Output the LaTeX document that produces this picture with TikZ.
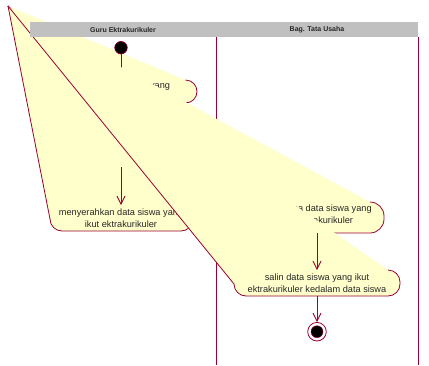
\documentclass[tikz,border=0pt]{standalone}
\usepackage{fontspec}
\setmainfont{Liberation Sans}
\usetikzlibrary{arrows.meta}
\definecolor{umlred}{RGB}{153,0,51}
\definecolor{umlfill}{RGB}{255,255,204}
\definecolor{umlhead}{RGB}{192,192,192}
\tikzset{
  umlline/.style={draw=umlred, line width=0.8pt},
  trans/.style={umlline, -{Straight Barb[length=8pt,width=8pt]}},
  acttext/.style={font=\fontsize{9.2}{11.6}\selectfont, align=center, inner sep=0pt, text=black!85},
  headtext/.style={font=\bfseries\fontsize{7}{8}\selectfont, inner sep=0pt, text=black!85},
  initnode/.style={circle, fill=black, draw=umlred, line width=0.6pt, minimum size=12.6pt, inner sep=0pt},
}
% activity shape: #1 left, #2 right, #3 top, #4 bottom, #5 corner radius (top-left corner drawn to the apex)
\newcommand\actshape[5]{%
  \fill[umlfill] (apex) -- (#2-#5,#3) .. controls (#2-0.448*#5,#3) and (#2,#3+0.448*#5) .. (#2,#3+#5)
    -- (#2,#4-#5) .. controls (#2,#4-0.448*#5) and (#2-0.448*#5,#4) .. (#2-#5,#4)
    -- (#1+#5,#4) .. controls (#1+0.448*#5,#4) and (#1,#4-0.448*#5) .. (#1,#4-#5) -- cycle;
  \draw[umlline] (#2-#5,#3) .. controls (#2-0.448*#5,#3) and (#2,#3+0.448*#5) .. (#2,#3+#5)
    -- (#2,#4-#5) .. controls (#2,#4-0.448*#5) and (#2-0.448*#5,#4) .. (#2-#5,#4)
    -- (#1+#5,#4) .. controls (#1+0.448*#5,#4) and (#1,#4-0.448*#5) .. (#1,#4-#5) -- (apex);
}
\begin{document}
\begin{tikzpicture}[x=1pt, y=-1pt]
\useasboundingbox (0,0) rectangle (429,365);
\fill[white] (0,0) rectangle (429,365);
\coordinate (apex) at (8,6);
% swimlane borders
\coordinate (l1top) at (216.5,37);
\coordinate (l1bot) at (216.5,365);
\coordinate (l2top) at (418,37);
\coordinate (l2bot) at (418,365);
\draw[umlline] (l1top) -- (l1bot);
\draw[umlline] (l2top) -- (l2bot);
% activity 1
\actshape{45}{197}{80}{103}{11.5}
\node[acttext] (a1) at (121,91.5) {melihat data siswa yang\\ikut ektrakurikuler};
\coordinate (a1top) at (121,80);
% initial node
\node[initnode] (init) at (121,47.7) {};
\draw[trans] (init) -- (a1top);
% activity 2
\actshape{50}{193}{205}{231}{12}
\node[acttext] (a2) at (121,218) {menyerahkan data siswa yang\\ikut ektrakurikuler};
\coordinate (a2top) at (121,205);
\coordinate (t2start) at (121,167);
\draw[trans] (t2start) -- (a2top);
% activity 3
\actshape{250}{384}{202}{233}{14}
\node[acttext] (a3) at (317,214.5) {menerima data siswa yang\\ikut ektrakurikuler};
\coordinate (a3bot) at (317,233);
% activity 4
\actshape{234}{400}{270}{296}{12}
\node[acttext] (a4) at (317,283.5) {salin data siswa yang ikut\\ektrakurikuler kedalam data siswa};
\coordinate (a4top) at (317,270);
\coordinate (a4bot) at (317,296);
% final node
\node[circle, draw=umlred, fill=white, line width=0.8pt, minimum size=18.6pt, inner sep=0pt] (fin) at (317,331.7) {};
\node[circle, fill=black, draw=umlred, line width=0.4pt, minimum size=12pt, inner sep=0pt] (finin) at (fin) {};
\draw[trans] (a3bot) -- (a4top);
\draw[trans] (a4bot) -- (fin);
% header
\fill[umlhead] (30,22) rectangle (418,37);
\node[headtext] (h1) at (123,29.5) {Guru Ektrakurikuler};
\node[headtext] (h2) at (317,29.5) {Bag. Tata Usaha};
\end{tikzpicture}
\end{document}
